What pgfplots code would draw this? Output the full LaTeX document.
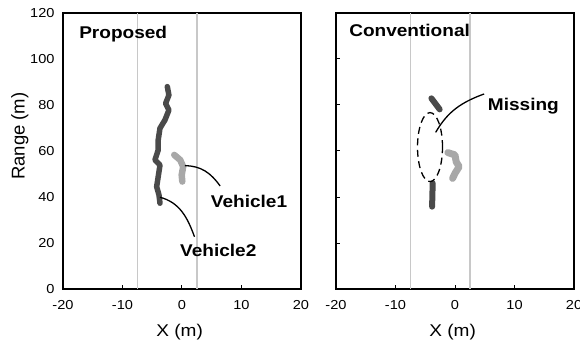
\documentclass[border=0pt]{standalone}
\usepackage{fontspec}
\setmainfont[FakeStretch=1.12]{Liberation Sans}
\newfontfamily\ylfont{Liberation Sans}
\usepackage{pgfplots}
\pgfplotsset{compat=1.18}
\definecolor{trkdark}{HTML}{4A4A4A}
\definecolor{trklight}{HTML}{A8A8A8}
\definecolor{lane}{HTML}{C8C8C8}
\tikzset{
  dark/.style={trkdark, line width=5.5pt, line join=round, line cap=round},
  light/.style={trklight, line width=6.5pt, line join=round, line cap=round},
  lanel/.style={lane, line width=1.7pt},
  ann/.style={font=\fontsize{17}{19}\selectfont\bfseries, anchor=base west, inner sep=0pt},
}
\pgfplotsset{
  panel/.style={
    scale only axis, width=238pt, height=276pt,
    xmin=-20, xmax=20, ymin=0, ymax=120,
    xtick={-20,-10,0,10,20}, ytick={0,20,40,60,80,100,120},
    tick align=inside, xtick pos=bottom, ytick pos=left,
    major tick length=4pt,
    tick style={black, line width=1pt},
    axis line style={black, line width=1.7pt},
    /pgf/number format/assume math mode=true,
    ticklabel style={font=\fontsize{13}{15}\selectfont},
    xticklabel style={yshift=-8pt},
    yticklabel style={xshift=-5pt},
    xlabel={X (m)},
    xlabel style={font=\fontsize{17}{19}\selectfont, at={(axis description cs:0.49,-0.173)}, anchor=base},
    clip=false,
  },
}
\begin{document}
\begin{tikzpicture}
\path[use as bounding box] (0,0) rectangle (580pt,348pt);
% Left panel: Proposed
\begin{axis}[panel, at={(63pt,59pt)}, anchor=south west,
  ylabel={Range (m)},
  ylabel style={font=\ylfont\fontsize{18.5}{20}\selectfont, at={(axis description cs:-0.181,0.554)}, anchor=center},
  ytick style={draw=none}]
\addplot[lanel] coordinates {(-7.5,0) (-7.5,120)};
\addplot[lanel] coordinates {(2.5,0) (2.5,120)};
\addplot[dark] coordinates {(-3.7,37.3) (-3.87,40.9) (-4.26,44.5) (-4.0,48.8) (-3.7,53.9) (-4.55,56.1) (-4.0,60.4) (-4.0,64.8) (-3.7,69.9) (-2.86,73.5) (-2.2,77.8) (-2.75,80.7) (-2.2,84.3) (-2.47,88.0)};
\addplot[light] coordinates {(-1.3,58.3) (-0.3,56.1) (0.2,53.2) (-0.05,49.6) (0.05,46.7)};
\draw[black, line width=1.3pt] (axis cs:0.5,53.6) to[out=0,in=125] (axis cs:6.4,44.8);
\draw[black, line width=1.3pt] (axis cs:-3.7,39.9) to[out=-15,in=110] (axis cs:2.1,22.7);
\node[ann] at (axis cs:-17.3,108.7) {Proposed};
\node[ann] at (axis cs:4.83,35.5) {Vehicle1};
\node[ann] at (axis cs:-0.34,14.3) {Vehicle2};
\end{axis}
% Right panel: Conventional
\begin{axis}[panel, at={(336pt,59pt)}, anchor=south west, yticklabels={}]
\addplot[lanel] coordinates {(-7.5,0) (-7.5,120)};
\addplot[lanel] coordinates {(2.5,0) (2.5,120)};
\addplot[dark, line width=6pt] coordinates {(-3.97,82.9) (-2.58,78.1)};
\addplot[dark, line width=6pt] coordinates {(-3.75,46) (-3.85,35.8)};
\addplot[light, line width=7pt] coordinates {(-1.2,59.3) (0,58.3) (0.2,55.3) (0.7,53.2) (0,50.3) (-0.4,48.1)};
\draw[black, line width=1.3pt, dash pattern=on 7pt off 4.5pt] (axis cs:-4.2,61.7) ellipse [x radius=2.1, y radius=15];
\draw[black, line width=1.3pt] (axis cs:-3.25,68.1) to[out=60,in=200] (axis cs:4.9,84.8);
\node[ann] at (axis cs:-17.8,109.6) {Conventional};
\node[ann] at (axis cs:5.5,77.8) {Missing};
\end{axis}
\end{tikzpicture}
\end{document}
